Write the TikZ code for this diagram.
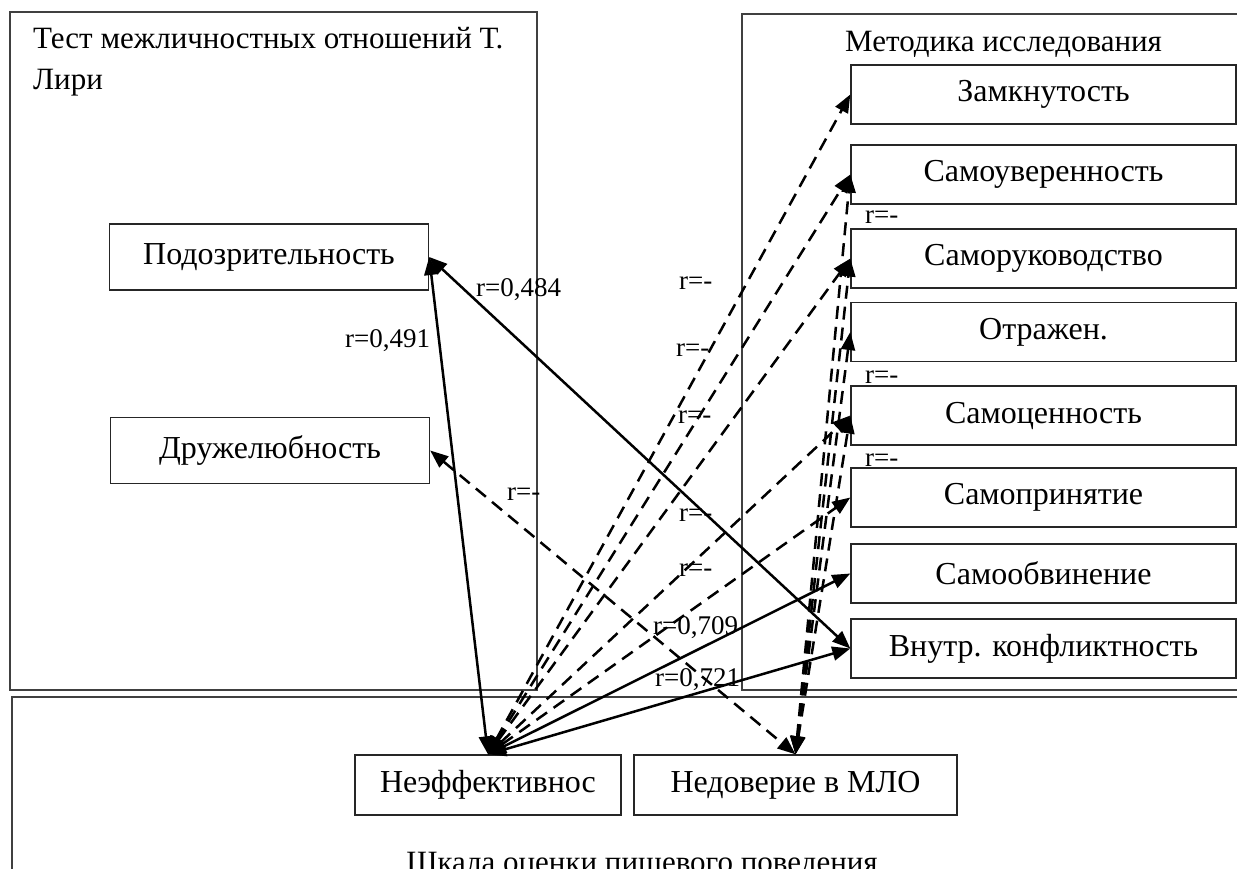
\documentclass[tikz,border=0pt]{standalone}
\usepackage{fontspec}
\setmainfont{Liberation Serif}
\usetikzlibrary{arrows.meta}
\tikzset{
  frm/.style={draw=black!75, line width=1.4pt},
  blk/.style={rectangle, draw=black!85, line width=1.4pt, inner sep=0pt,
              font=\fontsize{32}{38}\selectfont},
  rbox/.style={blk, minimum width=385pt, minimum height=59pt},
  lbox/.style={blk, minimum width=319pt, minimum height=66pt},
  botbox/.style={blk, minimum height=60pt},
  ttl/.style={inner sep=0pt, align=left, font=\fontsize{31}{41}\selectfont},
  rlbl/.style={inner sep=0pt, anchor=base west, font=\fontsize{27}{30}\selectfont},
  corpos/.style={{Triangle[length=18pt,width=14pt]}-{Triangle[length=18pt,width=14pt]},
                 line width=2.5pt, draw=black},
  corneg/.style={corpos, dash pattern=on 13pt off 8pt},
}
\begin{document}
\begin{tikzpicture}[x=1pt, y=-1pt]
  \useasboundingbox (0,0) rectangle (1237,869);
  \clip (0,0) rectangle (1237,869);
  \draw[frm] (10,12) rectangle (537,690);
  \draw[frm] (742,14) rectangle (1260,690);
  \draw[frm] (12,697) rectangle (1260,900);
  \node[ttl, anchor=north west] (tleary) at (33,27) {Тест межличностных отношений Т.\\Лири};
  \node[ttl, anchor=base west] (tmeth) at (845,52) {Методика исследования};
  \node[ttl, anchor=base] (tfood) at (642,872) {Шкала оценки пищевого поведения};

  \node[lbox] (podoz) at (269,257) {Подозрительность};
  \node[lbox] (druzh) at (270,450.5) {Дружелюбность};

  \node[rbox] (zamk) at (1043.5,94.5) {Замкнутость};
  \node[rbox] (samouv) at (1043.5,174.5) {Самоуверенность};
  \node[rbox] (samoruk) at (1043.5,258.5) {Саморуководство};
  \node[rbox] (otraz) at (1043.5,332) {Отражен.};
  \node[rbox] (samotsen) at (1043.5,415.5) {Самоценность};
  \node[rbox] (samoprin) at (1043.5,497.5) {Самопринятие};
  \node[rbox] (samoobv) at (1043.5,573.5) {Самообвинение};
  \node[rbox] (konfl) at (1043.5,648.5) {Внутр. конфликтность};

  \node[botbox, minimum width=266pt] (neff) at (488,785) {Неэффективнос};
  \node[botbox, minimum width=323pt] (nedov) at (795.5,785) {Недоверие в МЛО};

  \draw[corpos] (neff.north) -- (podoz.east);
  \draw[corpos] (podoz.east) -- (konfl.west);
  \draw[corneg] (druzh.east) -- (nedov.north);
  \draw[corneg] (neff.north) -- (zamk.west);
  \draw[corneg] (neff.north) -- (samouv.west);
  \draw[corneg] (neff.north) -- (samoruk.west);
  \draw[corneg] (neff.north) -- (samotsen.west);
  \draw[corneg] (neff.north) -- (samoprin.west);
  \draw[corpos] (neff.north) -- (samoobv.west);
  \draw[corpos] (neff.north) -- (konfl.west);
  \draw[corneg] (nedov.north) -- (samouv.west);
  \draw[corneg] (nedov.north) -- (samoruk.west);
  \draw[corneg] (nedov.north) -- (otraz.west);
  \draw[corneg] (nedov.north) -- (samotsen.west);

  \node[rlbl] (rpn) at (345,347) {r=0,491};
  \node[rlbl] (rpk) at (476,296) {r=0,484};
  \node[rlbl] (rdn) at (507,500) {r=-};
  \node[rlbl] (rzam) at (679,289) {r=-};
  \node[rlbl] (ruv) at (676,356) {r=-};
  \node[rlbl] (rruk) at (678,423) {r=-};
  \node[rlbl] (rtsen) at (679,521) {r=-};
  \node[rlbl] (rprin) at (679,576) {r=-};
  \node[rlbl] (robv) at (653,634) {r=0,709};
  \node[rlbl] (rkon) at (655,686) {r=0,721};
  \node[rlbl] (rn1) at (865,224) {r=-};
  \node[rlbl] (rn2) at (865,383) {r=-};
  \node[rlbl] (rn3) at (865,466) {r=-};
\end{tikzpicture}
\end{document}
